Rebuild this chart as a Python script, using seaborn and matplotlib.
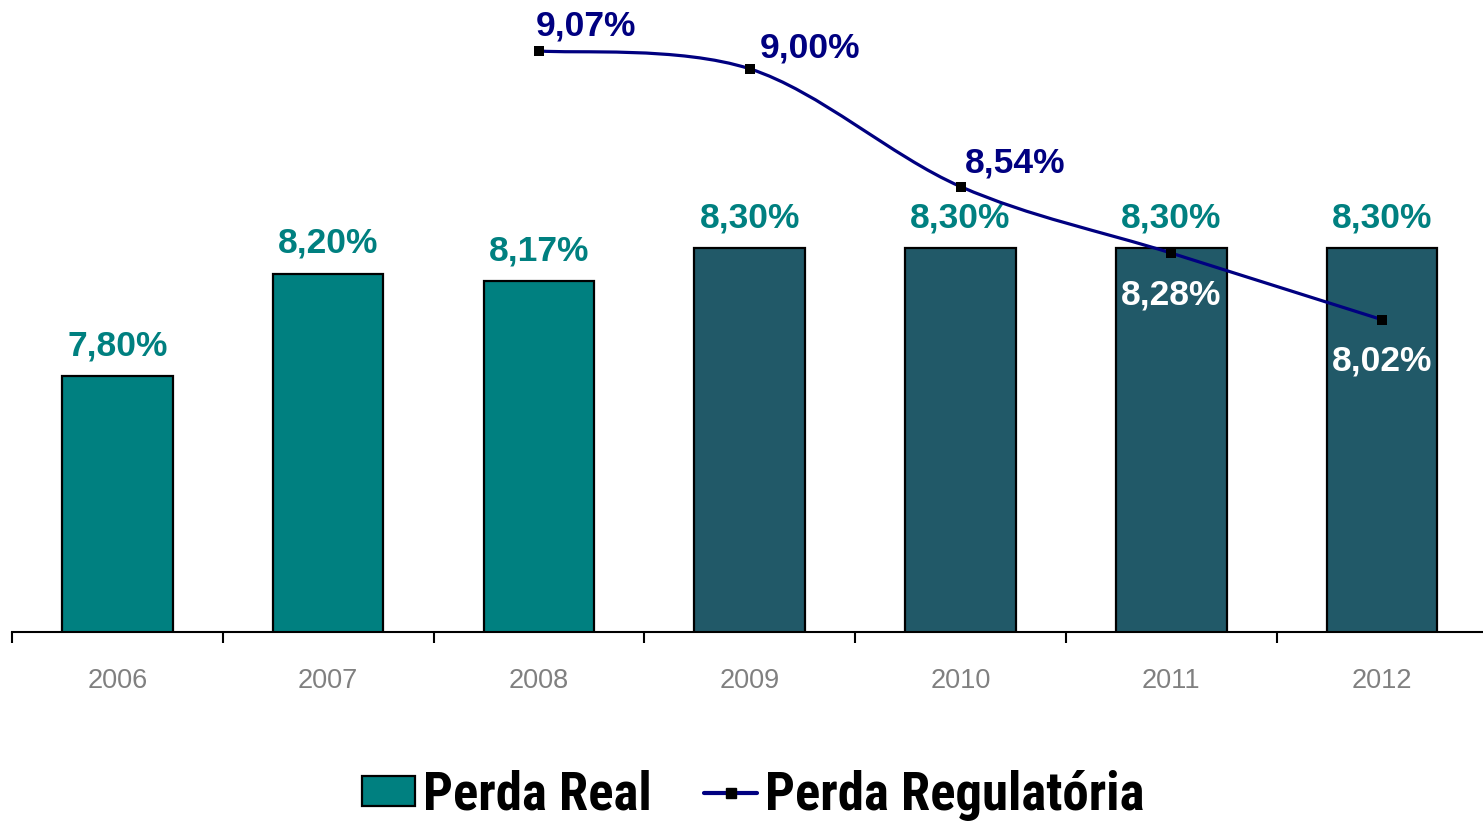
import matplotlib
matplotlib.use("Agg")
import matplotlib.pyplot as plt
import seaborn as sns
import numpy as np
import pandas as pd
from matplotlib.path import Path
from matplotlib.patches import PathPatch, Patch
from matplotlib.lines import Line2D
from matplotlib import font_manager as fm

# ---- data ----
years = ["2006", "2007", "2008", "2009", "2010", "2011", "2012"]
perda_real = [7.80, 8.20, 8.17, 8.30, 8.30, 8.30, 8.30]
reg_years = ["2008", "2009", "2010", "2011", "2012"]
perda_regulatoria = [9.07, 9.00, 8.54, 8.28, 8.02]
bar_colors = ["#008080", "#008080", "#008080", "#215968", "#215968", "#215968", "#215968"]

TEAL = "#008080"
NAVY = "#000080"

sns.set_theme(style="white")
plt.rcParams['font.family'] = ['Liberation Sans', 'DejaVu Sans']

names = {f.name for f in fm.fontManager.ttflist}
narrow = None
for cand in ['Liberation Sans Narrow', 'Roboto Condensed', 'Open Sans Condensed']:
    if cand in names:
        narrow = cand
        break
if narrow is None:
    legend_prop = {"family": "Liberation Sans", "weight": "bold", "size": 33}
else:
    legend_prop = {"family": narrow, "weight": "bold", "size": 38}

def fmt(v):
    return f"{v:.2f}".replace(".", ",") + "%"

fig = plt.figure(figsize=(14.83, 8.26), dpi=100)
ax = fig.add_axes([12 / 1483, 1 - 632 / 826, 1 - 12 / 1483 + 0.003, 632 / 826])

df = pd.DataFrame({"ano": years, "real": perda_real})
sns.barplot(data=df, x="ano", y="real", hue="ano", palette=bar_colors, legend=False,
            width=0.525, edgecolor="black", linewidth=1.6, ax=ax, saturation=1)

ymin = 6.8
ax.set_ylim(ymin, ymin + 632 / 256)
ax.set_xlim(-0.5, 6.5)

# bar labels
for i, v in enumerate(perda_real):
    ax.annotate(fmt(v), (i, v), xytext=(0, 10), textcoords="offset points",
                ha="center", va="bottom", color=TEAL, fontsize=25.5, fontweight="bold")

# smoothed regulatory line (cubic Bezier through data points)
xpos = [years.index(y) for y in reg_years]
P = np.column_stack([xpos, perda_regulatoria]).astype(float)
n = len(P)
verts = [tuple(P[0])]
codes = [Path.MOVETO]
for i in range(n - 1):
    p_prev = P[i - 1] if i > 0 else P[i]
    p_next2 = P[i + 2] if i + 2 < n else P[i + 1]
    c1 = P[i] + (P[i + 1] - p_prev) / 6
    c2 = P[i + 1] - (p_next2 - P[i]) / 6
    verts += [tuple(c1), tuple(c2), tuple(P[i + 1])]
    codes += [Path.CURVE4] * 3
ax.add_patch(PathPatch(Path(verts, codes), facecolor="none", edgecolor=NAVY, lw=2.3, zorder=4))

sns.scatterplot(x=xpos, y=perda_regulatoria, marker="s", s=60, color="black",
                edgecolor="black", linewidth=0, ax=ax, zorder=5)

# line labels
offsets = [(-2, 6, "left", "bottom", NAVY),
           (7, 3, "left", "bottom", NAVY),
           (3, 5, "left", "bottom", NAVY),
           (0, -18, "center", "top", "white"),
           (0, -18, "center", "top", "white")]
for (dx, dy, ha, va, c), x, v in zip(offsets, xpos, perda_regulatoria):
    ax.annotate(fmt(v), (x, v), xytext=(dx, dy), textcoords="offset points",
                ha=ha, va=va, color=c, fontsize=25.5, fontweight="bold", zorder=6)

# axes styling
for s in ["left", "right", "top"]:
    ax.spines[s].set_visible(False)
ax.spines["bottom"].set_color("black")
ax.spines["bottom"].set_linewidth(1.5)
ax.set_yticks([])
ax.set_xlabel("")
ax.set_ylabel("")
ax.set_xticks(range(len(years)))
ax.set_xticklabels(years, color="#808080", fontsize=19.5)
ax.set_xticks(np.arange(-0.5, len(years), 1.0), minor=True)
ax.tick_params(axis="x", which="major", bottom=False, length=0, pad=26)
ax.tick_params(axis="x", which="minor", bottom=True, length=8, width=1.5,
               color="black", direction="out")

handles = [Patch(facecolor=TEAL, edgecolor="black", linewidth=1.6),
           Line2D([0], [0], color=NAVY, lw=3, marker="s", markersize=7,
                  markerfacecolor="black", markeredgecolor="black")]
fig.legend(handles, ["Perda Real", "Perda Regulatória"], loc="center",
           bbox_to_anchor=(0.508, 0.037), ncol=2, frameon=False,
           prop=legend_prop, labelcolor="black",
           handlelength=1.0, handleheight=0.5, handletextpad=0.15, columnspacing=1.0)

fig.savefig("out.png", dpi=100)
